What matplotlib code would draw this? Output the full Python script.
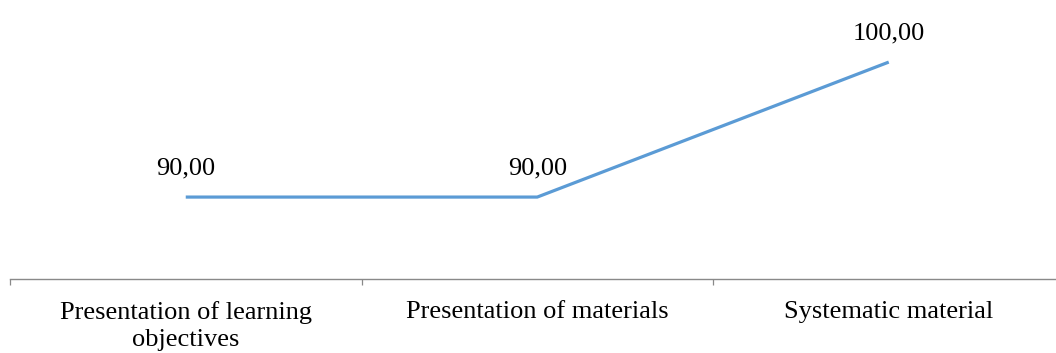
import matplotlib
matplotlib.use("Agg")
import matplotlib.pyplot as plt

categories = ["Presentation of learning\nobjectives", "Presentation of materials", "Systematic material"]
values = [90.0, 90.0, 100.0]

plt.rcParams["font.family"] = ["Liberation Serif", "DejaVu Serif"]

W, H = 1056, 353
fig = plt.figure(figsize=(W / 100, H / 100), dpi=100)
# axes runs from x=10px to past the right edge; bottom spine at y=279px
left_px, width_px = 10, 351.5 * 3
ax = fig.add_axes([left_px / W, (H - 279) / H, width_px / W, 279 / H])

x = [i + 0.5 for i in range(len(values))]
ax.plot(x, values, color="#5B9BD5", lw=2.3, solid_capstyle="butt")

ax.set_xlim(0, len(values))
ax.set_ylim(83.93, 104.6)

for xi, v in zip(x, values):
    ax.annotate(f"{v:.2f}".replace(".", ","), (xi, v), xytext=(0, 16.5),
                textcoords="offset points", ha="center", va="baseline",
                fontsize=19, color="black")

for s in ["top", "right", "left"]:
    ax.spines[s].set_visible(False)
ax.spines["bottom"].set_color("#898989")
ax.spines["bottom"].set_linewidth(1.0)
ax.set_yticks([])

ax.set_xticks(range(len(values) + 1))
ax.set_xticklabels([])
ax.tick_params(axis="x", which="major", length=4.5, width=0.9, color="#898989")
ax.set_xticks(x, minor=True)
ax.set_xticklabels(categories, minor=True, fontsize=19, linespacing=1.3)
ax.tick_params(axis="x", which="minor", length=0, pad=16)

fig.savefig("out.png", dpi=100)
